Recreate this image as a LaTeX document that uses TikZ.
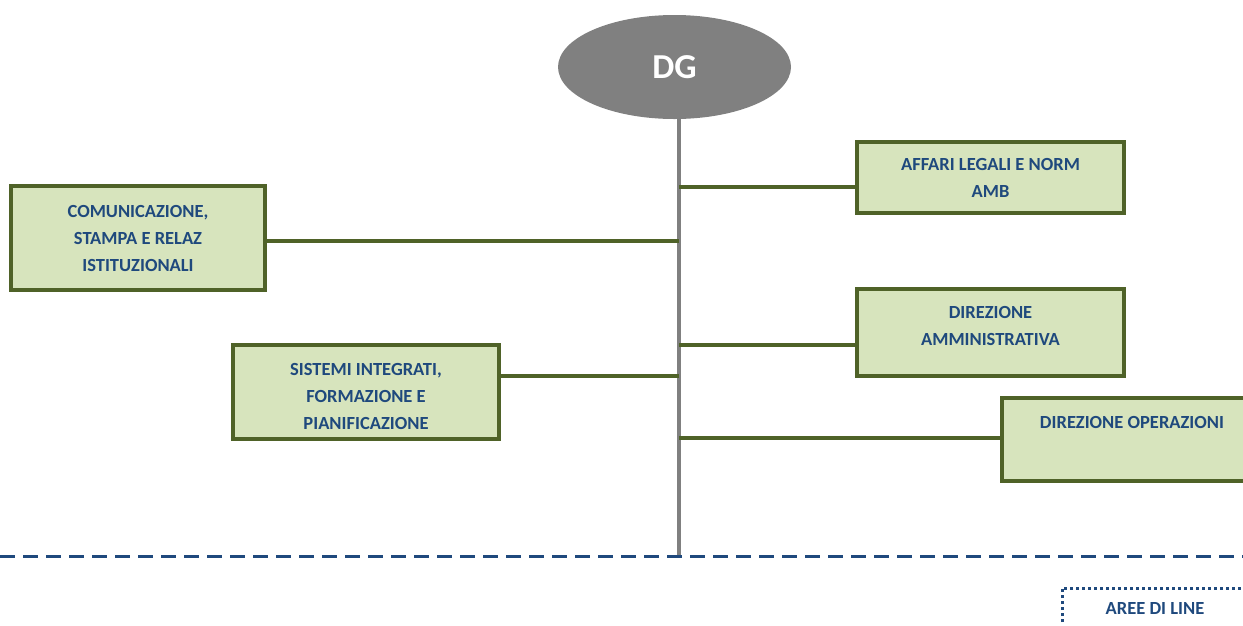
\documentclass[tikz,border=0pt]{standalone}
\usepackage{fontspec}
\setmainfont{Carlito}
\usetikzlibrary{positioning}
\usetikzlibrary{shapes.geometric}

\definecolor{boxfill}{RGB}{215,228,189}
\definecolor{boxline}{RGB}{79,98,40}
\definecolor{txtblue}{RGB}{31,73,125}
\definecolor{dggray}{RGB}{128,128,128}

\begin{document}
\begin{tikzpicture}[x=1pt, y=-1pt,
	unit/.style={rectangle, draw=boxline, fill=boxfill, line width=4pt, inner sep=0pt,
		align=center, text=txtblue, font=\fontsize{18.5}{27}\selectfont\bfseries},
	link/.style={draw=boxline, line width=4pt},
	trunk/.style={draw=dggray, line width=4pt},
	dgnode/.style={ellipse, fill=dggray, minimum width=233, minimum height=104, inner sep=0pt,
		text=white, font=\fontsize{35}{40}\selectfont\bfseries}
]

% Page frame
\useasboundingbox (0,0) rectangle (1243,625);
\clip (0,0) rectangle (1243,625);

% Trunk under the head node
\coordinate (ttop) at (679,100);
\coordinate (tbot) at (679,556);
\draw[trunk] (ttop) -- (tbot);

% Head node
\node[dgnode] (dg) at (674.5,67) {DG};

% Units
\node[unit, minimum width=254, minimum height=104] (com) at (138,238) {COMUNICAZIONE,\\STAMPA E RELAZ\\ISTITUZIONALI};
\node[unit, minimum width=266, minimum height=94] (sis) at (366,392) {\rule{0pt}{22pt}SISTEMI INTEGRATI,\\FORMAZIONE E\\PIANIFICAZIONE};
\node[unit, minimum width=267, minimum height=71] (aff) at (990.5,177.5) {AFFARI LEGALI E NORM\\AMB};
\node[unit, minimum width=267, minimum height=87] (amm) at (990.5,332.5) {DIREZIONE\\AMMINISTRATIVA\\[-14pt]};
\node[unit, minimum width=260, minimum height=83, anchor=west] (ope) at (1000,439.5) {};
\node[text=txtblue, font=\fontsize{18.5}{27}\selectfont\bfseries, below=17pt of ope.north, anchor=north] (opetxt) {DIREZIONE OPERAZIONI};

% Branches off the trunk
\coordinate (b1) at (679,187);
\coordinate (b2) at (679,241);
\coordinate (b3) at (679,345);
\coordinate (b4) at (679,376);
\coordinate (b5) at (679,438);
\draw[link] (b1) -- (b1 -| aff.west);
\draw[link] (b2) -- (b2 -| com.east);
\draw[link] (b3) -- (b3 -| amm.west);
\draw[link] (b4) -- (b4 -| sis.east);
\draw[link] (b5) -- (b5 -| ope.west);

% Line limit
\coordinate (dl) at (0,556);
\coordinate (dr) at (1243,556);
\draw[draw=txtblue, line width=3pt, dash pattern=on 15pt off 8pt] (dl) -- (dr);

% Legend
\coordinate (lg1) at (1062,622);
\coordinate (lg2) at (1062,588);
\coordinate (lg3) at (1243,588);
\draw[draw=txtblue, line width=3pt, dash pattern=on 3pt off 3pt] (lg1) -- (lg2) -- (lg3);
\node[text=txtblue, font=\fontsize{18.5}{20}\selectfont\bfseries] (leg) at (1155,608) {AREE DI LINE};

\end{tikzpicture}
\end{document}
